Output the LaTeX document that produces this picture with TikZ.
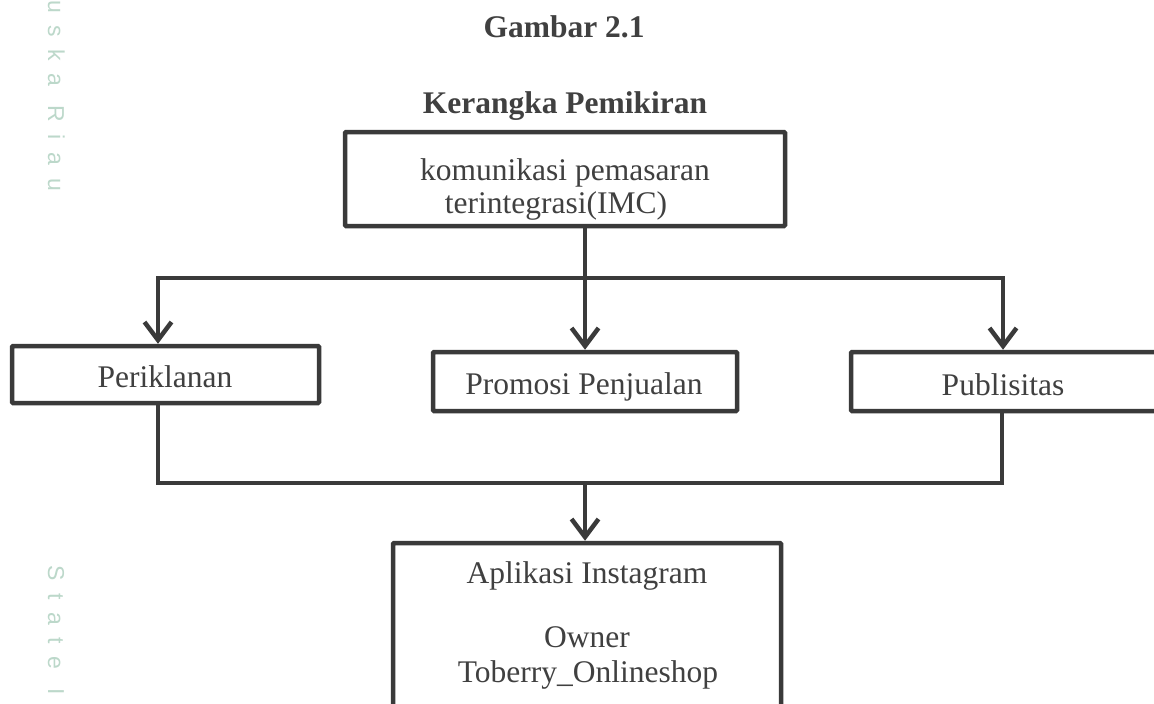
\documentclass[tikz,border=0pt]{standalone}
\usepackage{fontspec}
\setmainfont{Liberation Serif}
\setsansfont{Liberation Sans}
\usetikzlibrary{arrows.meta}
\definecolor{ink}{HTML}{3A3A3A}
\definecolor{txt}{HTML}{404040}
\definecolor{wm}{HTML}{BCD8CA}
\begin{document}
\begin{tikzpicture}[x=1pt,y=-1pt,
  box/.style={draw=ink, line width=4.5pt, inner sep=0pt, rounded corners=1pt},
  lbl/.style={text=txt, anchor=base, inner sep=0pt, font=\fontsize{31.5}{36}\selectfont},
  ttl/.style={text=txt, anchor=base, inner sep=0pt, font=\fontsize{31.5}{36}\selectfont\bfseries},
  wmark/.style={text=wm, rotate=-90, anchor=base west, inner sep=0pt, font=\sffamily\fontsize{23}{23}\selectfont\addfontfeatures{LetterSpace=55}},
  link/.style={draw=ink, line width=4.5pt},
  arr/.style={link, -{Straight Barb[length=18pt,width=27pt]}}]
\useasboundingbox (0,0) rectangle (1154,704);
\clip (0,0) rectangle (1154,704);
\fill[white] (0,0) rectangle (1154,704);
% watermark text
\node[wmark] (wm1) at (48,-28) {Suska Riau};
\node[wmark] (wm2) at (48,565) {State Islamic};
% boxes
\node[box, minimum width=440pt, minimum height=94pt] (top) at (565,179) {};
\node[box, minimum width=307pt, minimum height=57pt] (per) at (165.5,374.5) {};
\node[box, minimum width=304pt, minimum height=59pt] (promo) at (585,381.5) {};
\node[box, minimum width=324pt, minimum height=59pt] (pub) at (1013,381.5) {};
\node[box, minimum width=388pt, minimum height=197pt] (bot) at (587,641.5) {};
% texts
\node[ttl] (g) at (564,37) {Gambar 2.1};
\node[ttl] (k) at (565,113) {Kerangka Pemikiran};
\node[lbl] (t1) at (565,180) {komunikasi pemasaran};
\node[lbl] (t2) at (556,213) {terintegrasi(IMC)};
\node[lbl] (pt) at (165,387) {Periklanan};
\node[lbl] (mt) at (584,394) {Promosi Penjualan};
\node[lbl] (bt) at (1003,395) {Publisitas};
\node[lbl] (a1) at (587,583) {Aplikasi Instagram};
\node[lbl] (a2) at (587,647) {Owner};
\node[lbl] (a3) at (588,682) {Toberry\_Onlineshop};
% connectors
\coordinate (hm) at (585,278);
\coordinate (pa) at (158,278);
\coordinate (pb) at (1003,278);
\coordinate (qa) at (158,483);
\coordinate (qm) at (585,483);
\coordinate (qb) at (1002,483);
\draw[arr] (hm) -| (pa |- per.north);
\draw[arr] (hm) -| (pb |- pub.north);
\draw[arr] (top.south -| hm) -- (promo.north);
\draw[link] (qa |- per.south) |- (qb) -- (qb |- pub.south);
\draw[arr] (qm) -- (qm |- bot.north);
\end{tikzpicture}
\end{document}
